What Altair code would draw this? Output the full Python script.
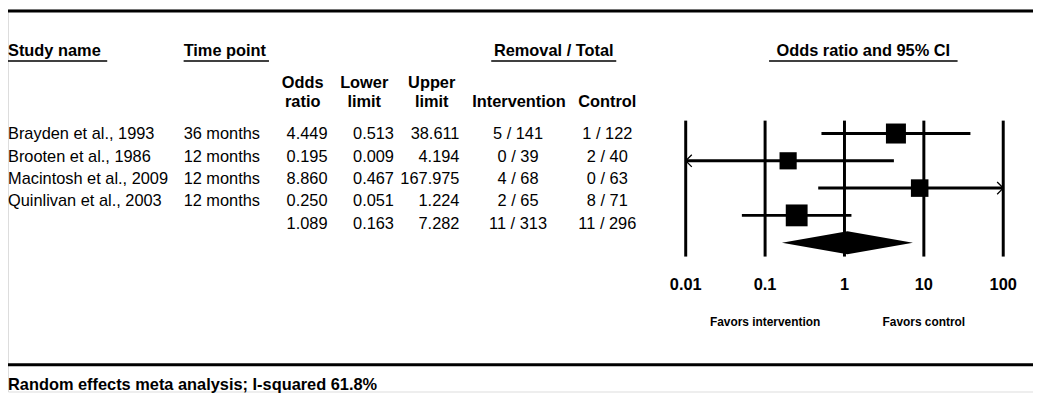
import altair as alt
import pandas as pd
import numpy as np

# ---------------- data ----------------
studies = ["Brayden et al., 1993", "Brooten et al., 1986",
           "Macintosh et al., 2009", "Quinlivan et al., 2003"]
time_points = ["36 months", "12 months", "12 months", "12 months"]
odds_ratio = [4.449, 0.195, 8.860, 0.250]
lower_limit = [0.513, 0.009, 0.467, 0.051]
upper_limit = [38.611, 4.194, 167.975, 1.224]
intervention = ["5 / 141", "0 / 39", "4 / 68", "2 / 65"]
control = ["1 / 122", "2 / 40", "0 / 63", "8 / 71"]

pooled_or = 1.089
pooled_lower = 0.163
pooled_upper = 7.282
pooled_intervention = "11 / 313"
pooled_control = "11 / 296"

tick_values = [0.01, 0.1, 1, 10, 100]
tick_labels = ["0.01", "0.1", "1", "10", "100"]
favors_labels = ["Favors intervention", "Favors control"]
footer = "Random effects meta analysis; I-squared 61.8%"

FONT = "Liberation Sans"
W, H = 1033, 385

# random-effects weights (DerSimonian-Laird) -> square area
y_log = np.log(odds_ratio)
se = (np.log(upper_limit) - np.log(lower_limit)) / (2 * 1.96)
v = se ** 2
w = 1 / v
ybar = np.sum(w * y_log) / np.sum(w)
Q = np.sum(w * (y_log - ybar) ** 2)
tau2 = max(0.0, (Q - (len(w) - 1)) / (np.sum(w) - np.sum(w ** 2) / np.sum(w)))
w_re = 1 / (v + tau2)

row_scale = alt.Scale(domain=[0, 4], range=[125, 235])      # forest rows
text_row_scale = alt.Scale(domain=[0, 4], range=[126, 216])  # table rows
or_scale = alt.Scale(type="log", domain=[0.01, 100], range=[683, 1003])
xmin, xmax = tick_values[0], tick_values[-1]

# ---------------- table text ----------------
fmt = lambda x: f"{x:.3f}"
tbl = pd.DataFrame({
    "row": list(range(5)),
    "study": studies + [""],
    "time": time_points + [""],
    "or": [fmt(x) for x in odds_ratio + [pooled_or]],
    "lo": [fmt(x) for x in lower_limit + [pooled_lower]],
    "hi": [fmt(x) for x in upper_limit + [pooled_upper]],
    "int": intervention + [pooled_intervention],
    "ctl": control + [pooled_control],
})
col_x = {"study": 0, "time": 177, "or": 322, "lo": 389, "hi": 455, "int": 514, "ctl": 604}
long = tbl.melt(id_vars="row", var_name="col", value_name="txt")
long["px"] = long["col"].map(col_x)

def text_layer(cols, align):
    d = long[long["col"].isin(cols)]
    return alt.Chart(d).mark_text(align=align, baseline="middle", font=FONT,
                                  fontSize=16.5, color="black").encode(
        x=alt.X("px:Q", scale=None),
        y=alt.Y("row:Q", scale=text_row_scale, axis=None),
        text="txt:N")

t_left = text_layer(["study", "time"], "left")
t_right = text_layer(["or", "lo", "hi"], "right")
t_center = text_layer(["int", "ctl"], "center")

# ---------------- headers ----------------
hdr_left = pd.DataFrame({"txt": ["Study name", "Time point"], "px": [0, 177], "py": [47, 47]})
hdr_center = pd.DataFrame({
    "txt": ["Removal / Total", "Odds ratio and 95% CI",
            "Odds", "ratio", "Lower", "limit", "Upper", "limit", "Intervention", "Control"],
    "px": [550, 862, 297, 297, 359, 359, 427, 427, 515, 604],
    "py": [47, 47, 79, 98, 79, 98, 79, 98, 98, 98],
})
h_left = alt.Chart(hdr_left).mark_text(align="left", baseline="alphabetic", font=FONT,
                                       fontSize=16.5, fontWeight="bold").encode(
    x=alt.X("px:Q", scale=None), y=alt.Y("py:Q", scale=None), text="txt:N")
h_center = alt.Chart(hdr_center).mark_text(align="center", baseline="alphabetic", font=FONT,
                                           fontSize=16.5, fontWeight="bold").encode(
    x=alt.X("px:Q", scale=None), y=alt.Y("py:Q", scale=None), text="txt:N")

underl = pd.DataFrame({"x1": [0, 177, 487, 767], "x2": [100, 263, 613, 957], "py": [52] * 4})
u_rules = alt.Chart(underl).mark_rule(color="black", strokeWidth=1.5).encode(
    x=alt.X("x1:Q", scale=None), x2="x2:Q", y=alt.Y("py:Q", scale=None))

hlines = pd.DataFrame({"x1": [0, 0], "x2": [1033, 1033], "py": [1.5, 358]})
h_rules = alt.Chart(hlines).mark_rule(color="black", strokeWidth=3).encode(
    x=alt.X("x1:Q", scale=None), x2="x2:Q", y=alt.Y("py:Q", scale=None))

# ---------------- forest ----------------
grid = pd.DataFrame({"v": tick_values, "lab": tick_labels})
g_rules = alt.Chart(grid).mark_rule(color="black", strokeWidth=3).encode(
    x=alt.X("v:Q", scale=or_scale, axis=None),
    y=alt.value(112), y2=alt.value(249))
g_text = alt.Chart(grid).mark_text(font=FONT, fontSize=16.5, fontWeight="bold",
                                   baseline="middle").encode(
    x=alt.X("v:Q", scale=or_scale, axis=None), y=alt.value(278), text="lab:N")

fav = pd.DataFrame({"v": [0.1, 10], "lab": favors_labels})
f_text = alt.Chart(fav).mark_text(font=FONT, fontSize=12, fontWeight="bold",
                                  baseline="middle").encode(
    x=alt.X("v:Q", scale=or_scale, axis=None), y=alt.value(315), text="lab:N")

fd = pd.DataFrame({
    "row": list(range(4)),
    "or": odds_ratio,
    "lo": np.clip(lower_limit, xmin, xmax),
    "hi": np.clip(upper_limit, xmin, xmax),
    "w": w_re,
})
ci = alt.Chart(fd).mark_rule(color="black", strokeWidth=3).encode(
    x=alt.X("lo:Q", scale=or_scale, axis=None), x2="hi:Q",
    y=alt.Y("row:Q", scale=row_scale, axis=None))
sq = alt.Chart(fd).mark_point(shape="square", filled=True, color="black", opacity=1).encode(
    x=alt.X("or:Q", scale=or_scale, axis=None),
    y=alt.Y("row:Q", scale=row_scale, axis=None),
    size=alt.Size("w:Q", scale=alt.Scale(domain=[0, float(w_re.max())], range=[0, 484]),
                  legend=None))

arrows = []
for i in range(4):
    if lower_limit[i] < xmin:
        arrows.append({"row": i, "v": xmin, "dir": "left"})
    if upper_limit[i] > xmax:
        arrows.append({"row": i, "v": xmax, "dir": "right"})
arr = pd.DataFrame(arrows)
arr_l = alt.Chart(arr[arr["dir"] == "left"]).mark_point(
    shape="M1,-1L0,0L1,1", filled=False, color="black", strokeWidth=1.3, size=150, opacity=1).encode(
    x=alt.X("v:Q", scale=or_scale, axis=None), y=alt.Y("row:Q", scale=row_scale, axis=None))
arr_r = alt.Chart(arr[arr["dir"] == "right"]).mark_point(
    shape="M-1,-1L0,0L-1,1", filled=False, color="black", strokeWidth=1.3, size=150, opacity=1).encode(
    x=alt.X("v:Q", scale=or_scale, axis=None), y=alt.Y("row:Q", scale=row_scale, axis=None))

half = 0.42
dia = pd.DataFrame({
    "x": [pooled_lower, pooled_or, pooled_upper],
    "y1": [4, 4 - half, 4],
    "y2": [4, 4 + half, 4],
})
diamond = alt.Chart(dia).mark_area(color="black", opacity=1).encode(
    x=alt.X("x:Q", scale=or_scale, axis=None),
    y=alt.Y("y1:Q", scale=row_scale, axis=None), y2="y2:Q")

foot = pd.DataFrame({"txt": [footer], "px": [0], "py": [378]})
f_foot = alt.Chart(foot).mark_text(align="left", baseline="middle", font=FONT,
                                   fontSize=16.5, fontWeight="bold").encode(
    x=alt.X("px:Q", scale=None), y=alt.Y("py:Q", scale=None), text="txt:N")

chart = alt.layer(
    h_rules, u_rules, h_left, h_center, t_left, t_right, t_center,
    g_rules, ci, diamond, sq, arr_l, arr_r, g_text, f_text, f_foot,
).resolve_scale(x="independent", y="independent", size="independent").properties(
    width=W, height=H,
    autosize=alt.AutoSizeParams(type="none"),
    padding=0,
).configure_view(stroke="transparent", strokeWidth=0).configure(background="white")

chart.save("out.html", embed_options={"renderer": "svg", "actions": False})
